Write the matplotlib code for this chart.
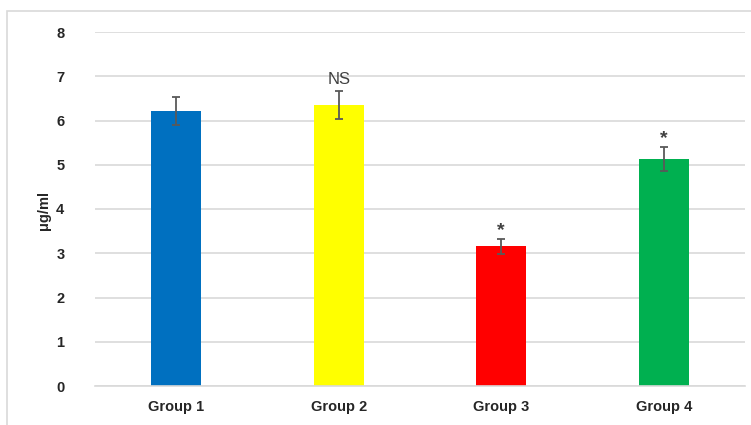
import matplotlib
matplotlib.use("Agg")
import matplotlib.pyplot as plt
from matplotlib.patches import Rectangle

groups = ["Group 1", "Group 2", "Group 3", "Group 4"]
values = [6.21, 6.35, 3.16, 5.13]
errors = [0.31, 0.32, 0.17, 0.27]
labels = ["", "NS", "*", "*"]
colors = ["#0070C0", "#FFFF00", "#FF0000", "#00B050"]

plt.rcParams['font.family'] = ['Liberation Sans', 'DejaVu Sans']

W, H = 751, 425
fig = plt.figure(figsize=(W/100, H/100), dpi=100)
fig.patches.append(Rectangle((7/W, -0.1), 1.2, 1 - 11/H + 0.1, transform=fig.transFigure,
                             fill=False, edgecolor="#D9D9D9", linewidth=1.2))
ax = fig.add_axes([95/W, 1 - 386/H, 650/W, (386 - 32)/H])

x = list(range(len(groups)))
ax.bar(x, values, width=0.31, color=colors, zorder=2)
ax.errorbar(x, values, yerr=errors, fmt='none', ecolor="#595959", elinewidth=1.3,
            capsize=3, capthick=1.3, zorder=3)
for xi, v, e, lab in zip(x, values, errors, labels):
    if lab == "NS":
        ax.text(xi, v + e + 0.08, lab, ha='center', va='bottom', fontsize=12,
                color="#404040", zorder=4)
    elif lab:
        ax.text(xi, v + e + 0.0, lab, ha='center', va='bottom', fontsize=14,
                fontweight='bold', color="#404040", zorder=4)

ax.set_xlim(-0.5, 3.5)
ax.set_ylim(0, 8)
ax.set_yticks(range(0, 9))
ax.yaxis.grid(True, color="#D9D9D9", linewidth=1.2, zorder=0)
ax.set_axisbelow(True)
for s in ["top", "right", "left"]:
    ax.spines[s].set_visible(False)
ax.spines["bottom"].set_color("#D9D9D9")
ax.spines["bottom"].set_linewidth(1.2)
ax.tick_params(axis='both', length=0, labelsize=10.5, labelcolor="#262626")
ax.tick_params(axis='y', pad=22)
ax.tick_params(axis='x', pad=10)
ax.set_xticks(x)
ax.set_xticklabels(groups, fontweight='bold')
for t in ax.get_yticklabels():
    t.set_fontweight('bold')
ax.set_ylabel("μg/ml", fontsize=10.5, fontweight='bold', color="#262626")
ax.yaxis.set_label_coords(-(95 - 51) / 650, (386 - 210) / 354)

fig.savefig("out.png", dpi=100)
